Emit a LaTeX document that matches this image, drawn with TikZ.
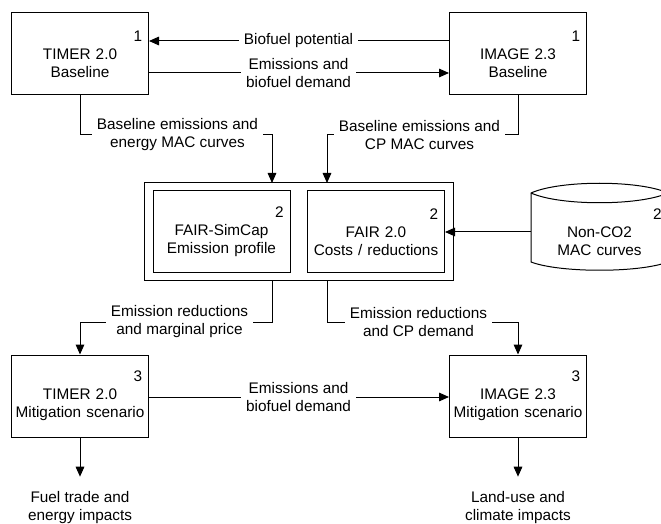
\documentclass[tikz,border=0pt]{standalone}
\usepackage{fontspec}
\setmainfont{Liberation Sans}
\usetikzlibrary{arrows.meta}
\tikzset{
  box/.style={draw, inner xsep=2.25pt, inner ysep=0pt, text width=98.25pt,
    minimum height=61.5pt, align=center},
  lbl/.style={inner sep=3.5pt, align=center},
  arr/.style={-{Triangle[length=7.5pt,width=6.5pt]}},
}
\newcommand{\boxno}[1]{\makebox[\linewidth][r]{#1\hspace{2.5pt}}}
\begin{document}
\begin{tikzpicture}[x=0.75pt, y=-0.75pt, line width=0.75pt,
    font=\fontsize{11.5}{13.5}\selectfont]
      \clip (0,0) rectangle (661,524);
      \node[box] (tb) at (80,54) {\boxno{1}\\TIMER 2.0\\Baseline};
      \node[box] (ib) at (518,54) {\boxno{1}\\IMAGE 2.3\\Baseline};
      \node[draw, minimum width=231.75pt, minimum height=73.5pt] (fairbox) at (298.5,232) {};
      \node[box] (simcap) at (221.5,232) {\boxno{2}\\FAIR-SimCap\\Emission profile};
      \node[box] (fair) at (376,232) {\boxno{2}\\FAIR 2.0\\Costs / reductions};
      \draw (531,193) .. controls (560,180) and (639,180) .. (668,193)
        -- (668,262) .. controls (639,273) and (560,273) .. (531,262) -- cycle;
      \draw (531,193) .. controls (560,206) and (639,206) .. (668,193);
      \node[box, draw=none] (ncm) at (599.5,232) {\boxno{2}\\Non-CO2\\MAC curves};
      \node[box] (tm) at (80,396) {\boxno{3}\\TIMER 2.0\\Mitigation scenario};
      \node[box] (im) at (518,396) {\boxno{3}\\IMAGE 2.3\\Mitigation scenario};
      \coordinate (in1) at (272,183);
      \coordinate (in2) at (327,183);
      \coordinate (out1) at (272,281);
      \coordinate (out2) at (327,281);
      \node[lbl] (bp) at (298.5,41) {Biofuel potential};
      \node[lbl] (ebd1) at (298.5,73) {Emissions and\\biofuel demand};
      \node[lbl] (bem1) at (177.5,135) {Baseline emissions and\\energy MAC curves};
      \node[lbl] (bem2) at (419.5,135) {Baseline emissions and\\CP MAC curves};
      \node[lbl] (erm) at (179.5,322) {Emission reductions\\and marginal price};
      \node[lbl] (erc) at (418.5,322) {Emission reductions\\and CP demand};
      \node[lbl] (ebd2) at (298.5,397) {Emissions and\\biofuel demand};
      \node[lbl] (fte) at (80,508) {Fuel trade and\\energy impacts};
      \node[lbl] (luc) at (518,508) {Land-use and\\climate impacts};
      \begin{scope}[arr]
        \draw (bp.west) -- (bp.west -| tb.east);
        \draw[-] (bp.east) -- (bp.east -| ib.west);
        \draw[-] (ebd1.west -| tb.east) -- (ebd1.west);
        \draw (ebd1.east) -- (ebd1.east -| ib.west);
        \draw[-] (tb.south) |- (bem1.west);
        \draw (bem1.east) -| (in1);
        \draw[-] (ib.south) |- (bem2.east);
        \draw (bem2.west) -| (in2);
        \draw (ncm.west) -- (fair.east);
        \draw[-] (out1) |- (erm.east);
        \draw (erm.west) -| (tm.north);
        \draw[-] (out2) |- (erc.west);
        \draw (erc.east) -| (im.north);
        \draw[-] (ebd2.west -| tm.east) -- (ebd2.west);
        \draw (ebd2.east) -- (ebd2.east -| im.west);
        \draw[shorten >=7.5pt] (tm.south) -- (fte.north);
        \draw[shorten >=7.5pt] (im.south) -- (luc.north);
      \end{scope}
    \end{tikzpicture}
\end{document}
